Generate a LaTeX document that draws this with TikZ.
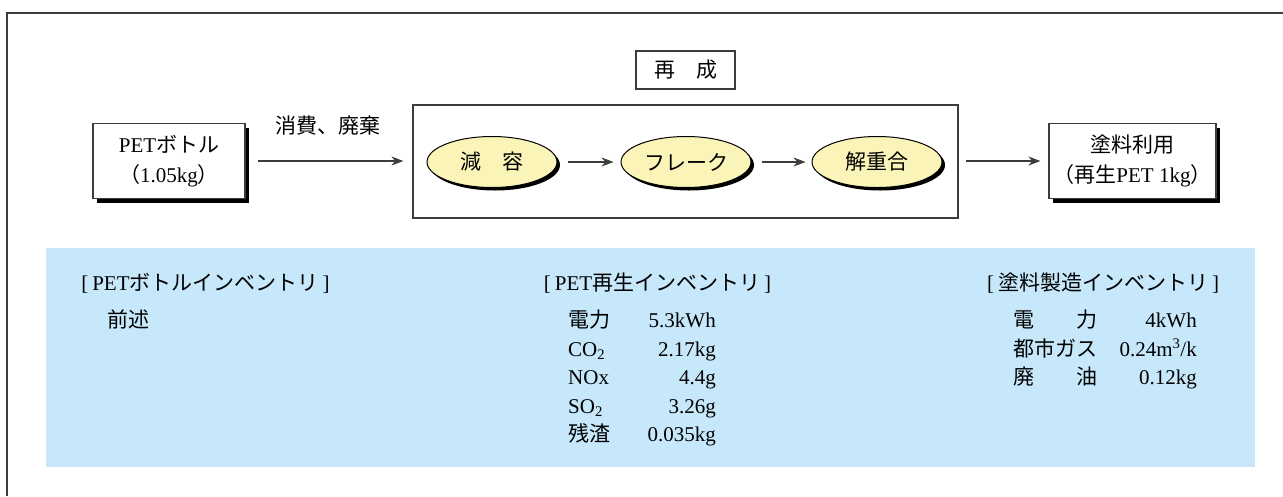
\documentclass[tikz,border=0pt]{standalone}
\usepackage{fontspec}
\setmainfont{Liberation Serif}
\newfontfamily\jpfont{Noto Sans CJK JP}
\newcommand{\J}[1]{{\jpfont #1}}
\usetikzlibrary{shadows,arrows.meta,shapes.geometric}
\definecolor{bluebg}{RGB}{198,232,250}
\definecolor{ellfill}{RGB}{251,244,184}
\definecolor{linec}{RGB}{60,60,60}
\begin{document}
\begin{tikzpicture}[x=1pt,y=-1pt,
  font=\fontsize{21}{30}\selectfont,
  frameline/.style={draw=linec,line width=1.5pt},
  box/.style={draw=linec,line width=1.2pt,fill=white,rectangle,inner sep=0pt,align=center,
     drop shadow={shadow xshift=4pt,shadow yshift=-4pt,fill=black,opacity=1}},
  plainbox/.style={draw=linec,line width=1.2pt,rectangle,inner sep=0pt,align=center},
  ell/.style={ellipse,draw=black,line width=1pt,fill=ellfill,minimum width=130pt,minimum height=51pt,inner sep=0pt,
     drop shadow={shadow xshift=3pt,shadow yshift=-3pt,fill=black,opacity=1}},
  arrow/.style={-{Stealth[length=12pt,width=9pt]},draw=linec,line width=1.3pt},
  txt/.style={inner sep=0pt,anchor=base},
  lab/.style={inner sep=0pt,anchor=base west},
  val/.style={inner sep=0pt,anchor=base east}
]
\useasboundingbox (0,0) rectangle (1283,496);
% outer frame
\coordinate (ftr) at (1283,13);
\coordinate (ftl) at (7,13);
\coordinate (fbl) at (7,496);
\draw[frameline] (ftr) -- (ftl) -- (fbl);

% flow
\node[box,minimum width=152pt,minimum height=75pt] (pet) at (169,161) {PET\J{ボトル}\\\J{（}1.05kg\J{）}};
\node[plainbox,minimum width=545pt,minimum height=113pt] (regen) at (685.5,161.5) {};
\node[plainbox,minimum width=99pt,minimum height=38pt,fill=white] (regenlbl) at (685.5,70) {\J{再　成}};
\node[ell] (e1) at (492,162) {\J{減　容}};
\node[ell] (e2) at (686,162) {\J{フレーク}};
\node[ell] (e3) at (877,162) {\J{解重合}};
\node[box,minimum width=167pt,minimum height=75pt] (paint) at (1132.5,161) {\J{塗料利用}\\\J{（再生}PET 1kg\J{）}};
\node[inner sep=0pt] (cons) at (328,126) {\J{消費、廃棄}};

\draw[arrow,shorten <=12pt,shorten >=9pt] (pet.east) -- (pet.east -| regen.west);
\draw[arrow,shorten <=10pt,shorten >=7pt] (e1) -- (e2);
\draw[arrow,shorten <=10pt,shorten >=6pt] (e2) -- (e3);
\draw[arrow,shorten <=7pt,shorten >=8pt] (paint.west -| regen.east) -- (paint.west);

% inventory panel
\node[fill=bluebg,minimum width=1209pt,minimum height=219pt,inner sep=0pt] (inv) at (650.5,357.5) {};

\node[txt] (h1) at (205.5,290) {[\hspace{4pt}PET\J{ボトルインベントリ}\hspace{4pt}]};
\node[lab] (h1a) at (107,327) {\J{前述}};

\node[txt] (h2) at (657.5,290) {[\hspace{4pt}PET\J{再生インベントリ}\hspace{4pt}]};
\node[lab] (r1l) at (568,327) {\J{電力}};
\node[val] (r1v) at (716,327) {5.3kWh};
\node[lab] (r2l) at (568,356) {CO\textsubscript{2}};
\node[val] (r2v) at (716,356) {2.17kg};
\node[lab] (r3l) at (568,384) {NOx};
\node[val] (r3v) at (716,384) {4.4g};
\node[lab] (r4l) at (568,413) {SO\textsubscript{2}};
\node[val] (r4v) at (716,413) {3.26g};
\node[lab] (r5l) at (568,441) {\J{残渣}};
\node[val] (r5v) at (716,441) {0.035kg};

\node[txt] (h3) at (1103,290) {[\hspace{4pt}\J{塗料製造インベントリ}\hspace{4pt}]};
\node[lab] (s1l) at (1013,327) {\J{電　　力}};
\node[val] (s1v) at (1197,327) {4kWh};
\node[lab] (s2l) at (1013,356) {\J{都市ガス}};
\node[val] (s2v) at (1197,356) {0.24m\textsuperscript{3}/k};
\node[lab] (s3l) at (1013,384) {\J{廃　　油}};
\node[val] (s3v) at (1197,384) {0.12kg};
\end{tikzpicture}
\end{document}
